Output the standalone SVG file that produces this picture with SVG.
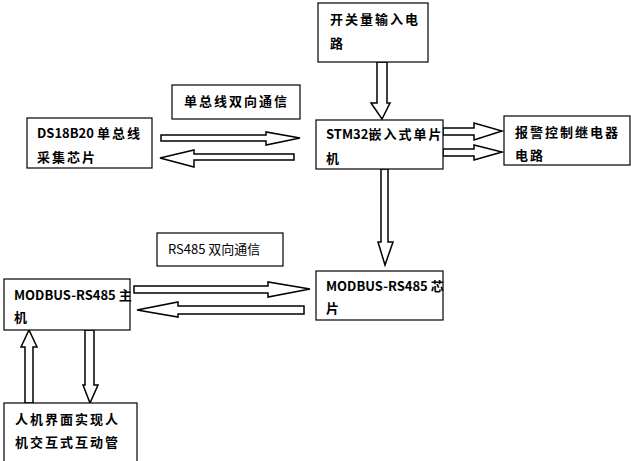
<svg xmlns="http://www.w3.org/2000/svg" width="631" height="461" viewBox="0 0 631 461">
<style>
.b{fill:#fff;stroke:#000;stroke-width:1.2}
.a{fill:#fff;stroke:#000;stroke-width:1.5;stroke-linejoin:miter}
text{font-family:"Noto Sans CJK SC","Liberation Sans",sans-serif;font-size:13px;fill:#000;font-weight:bold}
.s{letter-spacing:2px}
</style>
<rect width="631" height="461" fill="#fff"/>
<g id="connectors">
<path class="a" d="M377,62 H387 V103 H390 L382,119 L371,103 H377 Z"/>
<path class="a" d="M161,135 H266 V132 L300,138 L266,145 V141 H161 Z"/>
<path class="a" d="M294,154 H194 V150 L160,158 L194,167 V160 H294 Z"/>
<path class="a" d="M443,128 H474 V123 L502,131 L474,140 V135 H443 Z"/>
<path class="a" d="M443,149 H474 V145 L502,152 L474,160 V156 H443 Z"/>
<path class="a" d="M381,169 H388 V242 H393 L385,265 L378,242 H381 Z"/>
<path class="a" d="M134,286 H268 V282 L310,289 L268,297 V293 H134 Z"/>
<path class="a" d="M304,306 H178 V302 L137,310 L178,317 V314 H304 Z"/>
<path class="a" d="M25,403 V347 H21 L29,330 L37,347 H33 V403 Z"/>
<path class="a" d="M85,330 H94 V385 H98 L90,403 L83,385 H85 Z"/>
</g>
<g id="n-switch"><rect class="b" x="318" y="3" width="110" height="59"/><text class="s" x="330" y="24">开关量输入电</text><text x="330" y="48">路</text></g>
<g id="l-single"><rect class="b" x="172" y="85" width="128" height="34"/><text class="s" x="184" y="106">单总线双向通信</text></g>
<g id="n-ds"><rect class="b" x="27" y="118" width="125" height="50"/><text x="37" y="138">DS18B20 <tspan class="s">单总线</tspan></text><text class="s" x="37" y="162">采集芯片</text></g>
<g id="n-stm"><rect class="b" x="316" y="120" width="127" height="49"/><text x="326" y="139">STM32<tspan class="s">嵌入式单片</tspan></text><text x="326" y="163">机</text></g>
<g id="n-alarm"><rect class="b" x="504" y="116" width="126" height="49"/><text class="s" x="515" y="137">报警控制继电器</text><text class="s" x="515" y="160">电路</text></g>
<g id="l-rs"><rect class="b" x="157" y="233" width="126" height="33"/><text x="168" y="254" style="font-weight:normal">RS485 双向通信</text></g>
<g id="n-chip"><rect class="b" x="316" y="271" width="127" height="49"/><text x="326" y="291">MODBUS-RS485  芯</text><text x="326" y="313">片</text></g>
<g id="n-master"><rect class="b" x="4" y="279" width="126" height="51"/><text x="14" y="300">MODBUS-RS485  主</text><text x="14" y="322">机</text></g>
<g id="n-hmi"><rect class="b" x="4" y="403" width="133" height="60"/><text class="s" x="15" y="424">人机界面实现人</text><text class="s" x="15" y="447">机交互式互动管</text></g>
</svg>
